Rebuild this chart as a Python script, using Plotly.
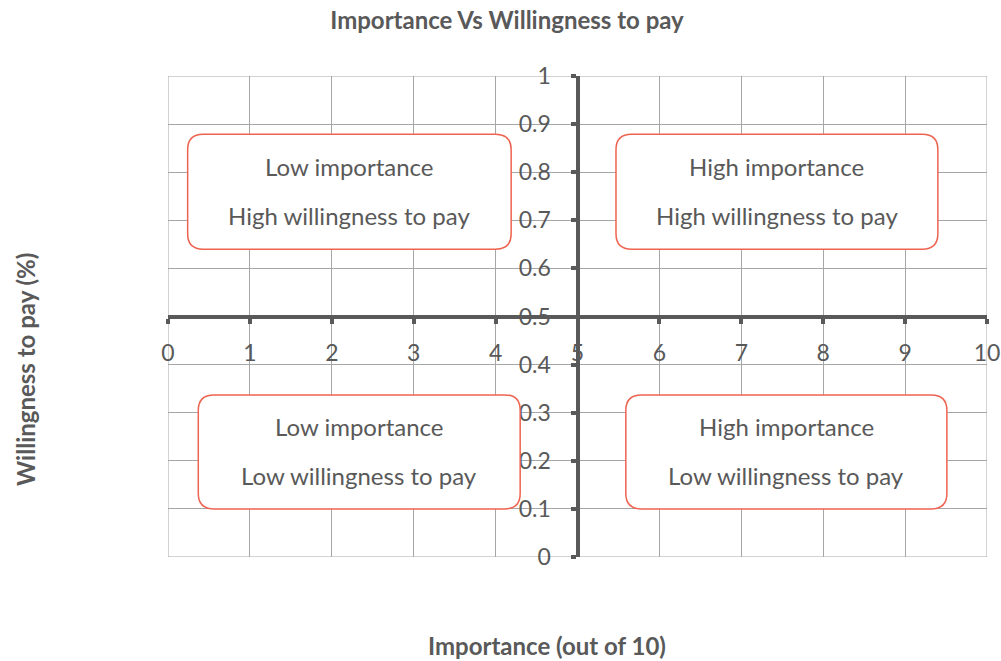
import plotly.graph_objects as go

# ---- data ----
x_ticks = [0, 1, 2, 3, 4, 5, 6, 7, 8, 9, 10]
x_tick_labels = ["0", "1", "2", "3", "4", "5", "6", "7", "8", "9", "10"]
y_ticks = [0, 0.1, 0.2, 0.3, 0.4, 0.5, 0.6, 0.7, 0.8, 0.9, 1]
y_tick_labels = ["0", "0.1", "0.2", "0.3", "0.4", "0.5", "0.6", "0.7", "0.8", "0.9", "1"]
quadrant_line1 = ["Low importance", "High importance", "Low importance", "High importance"]
quadrant_line2 = ["High willingness to pay", "High willingness to pay",
                  "Low willingness to pay", "Low willingness to pay"]
# box extents in data units (x0, x1, y0, y1)
box_x0 = [0.24, 5.47, 0.37, 5.59]
box_x1 = [4.19, 9.40, 4.30, 9.51]
box_y0 = [0.640, 0.640, 0.100, 0.100]
box_y1 = [0.879, 0.879, 0.337, 0.337]

FONT = "Lato"
DARK = "#595959"
GRID = "#A6A6A6"
RED = "#EE6350"

W, H = 1001, 661

fig = go.Figure()
fig.add_trace(go.Scatter(x=[], y=[], mode="markers", showlegend=False))

# plot-area border (edge gridlines)
fig.add_shape(type="rect", xref="x", yref="y", x0=x_ticks[0], x1=x_ticks[-1],
              y0=y_ticks[0], y1=y_ticks[-1], line=dict(color=GRID, width=1),
              fillcolor="rgba(0,0,0,0)", layer="below")

# rounded boxes
rx, ry = 0.19, 0.032
for i in range(4):
    x0, x1, y0, y1 = box_x0[i], box_x1[i], box_y0[i], box_y1[i]
    path = (f"M {x0+rx},{y0} L {x1-rx},{y0} Q {x1},{y0} {x1},{y0+ry} "
            f"L {x1},{y1-ry} Q {x1},{y1} {x1-rx},{y1} "
            f"L {x0+rx},{y1} Q {x0},{y1} {x0},{y1-ry} "
            f"L {x0},{y0+ry} Q {x0},{y0} {x0+rx},{y0} Z")
    fig.add_shape(type="path", path=path, xref="x", yref="y",
                  line=dict(color=RED, width=1.5), fillcolor="white", layer="above")
    cx = (x0 + x1) / 2
    cy = (y0 + y1) / 2
    for txt, shift in ((quadrant_line1[i], 25), (quadrant_line2[i], -24)):
        fig.add_annotation(x=cx, y=cy, xref="x", yref="y", yshift=shift,
                           text=txt, showarrow=False,
                           font=dict(family=FONT, size=24, color=DARK))

fig.update_layout(
    width=W, height=H,
    margin=dict(l=168, r=14, t=76, b=104, autoexpand=False),
    paper_bgcolor="white", plot_bgcolor="white",
    showlegend=False,
    title=dict(text="<b>Importance Vs Willingness to pay</b>", x=507 / W, xanchor="center",
               y=1 - 21 / H, yanchor="middle", yref="container", automargin=False,
               font=dict(family=FONT, size=24, color=DARK)),
    xaxis=dict(range=[0, 10], tickvals=x_ticks, ticktext=x_tick_labels,
               showgrid=True, gridcolor=GRID, gridwidth=1, zeroline=False,
               showline=True, linecolor=DARK, linewidth=4,
               anchor="free", position=0.5, automargin=False,
               ticks="outside", ticklen=5, tickwidth=4, tickcolor=DARK,
               tickfont=dict(family=FONT, size=23, color=DARK),
               ticklabelstandoff=10),
    yaxis=dict(range=[0, 1], tickvals=y_ticks, ticktext=y_tick_labels,
               showgrid=True, gridcolor=GRID, gridwidth=1, zeroline=False,
               showline=True, linecolor=DARK, linewidth=4,
               anchor="free", position=0.5, automargin=False,
               ticks="outside", ticklen=5, tickwidth=4, tickcolor=DARK,
               tickfont=dict(family=FONT, size=23, color=DARK),
               ticklabelstandoff=15),
)

fig.add_annotation(x=(547 - 168) / 819, y=1 - (645 - 76) / 481, xref="paper", yref="paper",
                   xanchor="center", yanchor="middle",
                   text="<b>Importance (out of 10)</b>", showarrow=False,
                   font=dict(family=FONT, size=24, color=DARK))
fig.add_annotation(x=(25 - 168) / 819, y=1 - (370 - 76) / 481, xref="paper", yref="paper",
                   xanchor="center", yanchor="middle",
                   text="<b>Willingness to pay (%)</b>", showarrow=False, textangle=-90,
                   font=dict(family=FONT, size=24, color=DARK))

fig.write_html("out.html", config={"displayModeBar": False},
               post_script="document.body.style.margin='0px';"
                           "document.body.style.overflow='hidden';")
